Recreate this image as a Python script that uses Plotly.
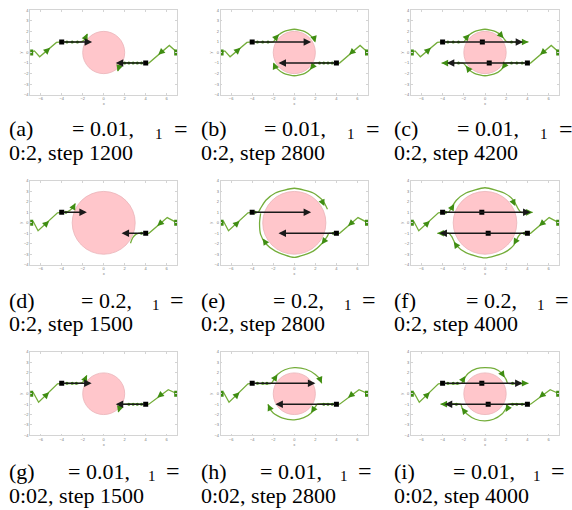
import plotly.graph_objects as go

# ---------------- data ----------------
PANEL_LABELS = ['(a)', '(b)', '(c)', '(d)', '(e)', '(f)', '(g)', '(h)', '(i)']
EPSILON = ['0.01', '0.01', '0.01', '0.2', '0.2', '0.2', '0.01', '0.01', '0.01']
LAMBDA1 = ['0:2', '0:2', '0:2', '0:2', '0:2', '0:2', '0:02', '0:02', '0:02']
STEPS = [1200, 2800, 4200, 1500, 2800, 4000, 1500, 2800, 4000]
RADIUS = [2, 2, 2, 3, 3, 3, 2, 2, 2]
X_TICKS = [-6, -4, -2, 0, 2, 4, 6]
Y_TICKS = [-4, -3, -2, -1, 0, 1, 2, 3, 4]

STARTS = [(-7, 0), (7, 0)]
AGENT_POS = [(-4, 1), (4, -1)]

# approach paths per row (left agent, right agent)
APPROACH_LEFT = [
    [(-7, 0), (-6.6, 0.15), (-6.1, -0.4), (-4.5, 0.95), (-4, 1)],
    [(-7, 0), (-6.7, 0.1), (-6.25, -0.76), (-4.4, 0.95), (-4, 1)],
    [(-7, 0), (-6.7, 0.1), (-6.2, -0.82), (-4.4, 0.95), (-4, 1)],
]
APPROACH_RIGHT = [
    [(7, 0), (6.25, 0.67), (4.3, -1), (4, -1)],
    [(7, 0), (6.05, 0.5), (4.3, -1), (4, -1)],
    [(7, 0), (6.15, 0.38), (4.3, -1), (4, -1)],
]
APPROACH_HEADS = [
    [(-5.5, 0.08, -5.1, 0.44), (5.6, 0.14, 5.2, -0.22)],
    [(-5.6, -0.2, -5.2, 0.18), (5.5, 0.05, 5.1, -0.3)],
    [(-5.6, -0.25, -5.2, 0.15), (5.5, -0.05, 5.1, -0.38)],
]

# trails after the agent positions
LEFT_TRAIL = [
    [(-4, 1), (-2.2, 1), (-1.95, 1.1), (-1.75, 1.35), (-1.55, 1.75)],
    [(-4, 1), (-2.0, 1.0), (-1.85, 1.2), (-1.5, 1.65), (-1.0, 1.98), (0, 2.2), (1.0, 1.98), (1.6, 1.55), (1.95, 1.05)],
    [(-4, 1), (-2.0, 1.0), (-1.85, 1.2), (-1.5, 1.65), (-1.0, 1.98), (0, 2.2), (1.0, 1.98), (1.6, 1.55), (1.95, 1.1), (2.1, 1.0), (4.1, 1.0)],
    [(-4, 1), (-3.5, 1.05), (-3.15, 1.25), (-2.9, 1.5), (-2.7, 1.85)],
    [(-4, 1), (-3.4, 1.05), (-3.2, 1.4), (-2.7, 2.15), (-1.8, 2.85), (0, 3.3), (1.8, 2.85), (2.7, 2.15), (3.15, 1.3)],
    [(-4, 1), (-3.4, 1.05), (-3.2, 1.4), (-2.7, 2.15), (-1.8, 2.85), (0, 3.35), (1.8, 2.85), (2.7, 2.15), (3.15, 1.3), (3.4, 1.0), (4.5, 1.0)],
    [(-4, 1), (-2.3, 1), (-2.0, 1.1), (-1.8, 1.35), (-1.6, 1.75)],
    [(-4, 1), (-2.2, 1), (-2.0, 1.25), (-1.6, 1.85), (-0.9, 2.3), (0, 2.5), (1.1, 2.35), (2.0, 1.85), (2.5, 1.3), (2.6, 1.0)],
    [(-4, 1), (-2.2, 1.0), (-2.05, 1.3), (-1.6, 1.95), (-0.8, 2.4), (0, 2.5), (0.9, 2.4), (1.6, 1.95), (2.0, 1.35), (2.15, 1.0), (4.1, 1.0)],
]
RIGHT_TRAIL = [
    [(4, -1), (1.8, -1), (1.6, -1.15), (1.45, -1.4), (1.35, -1.75)],
    [(4, -1), (1.9, -1), (1.8, -1.2), (1.5, -1.6), (1.0, -1.97), (0, -2.2), (-1.0, -1.97), (-1.6, -1.55), (-1.95, -1.05)],
    [(4, -1), (2.0, -1), (1.85, -1.2), (1.5, -1.65), (1.0, -1.98), (0, -2.2), (-1.0, -1.98), (-1.6, -1.55), (-1.95, -1.1), (-2.1, -1.0), (-4.1, -1.0)],
    [(4, -1), (3.3, -1), (3.0, -1.15), (2.75, -1.45), (2.55, -1.95)],
    [(4, -1), (3.3, -1), (3.1, -1.35), (2.6, -2.0), (1.8, -2.7), (0, -3.3), (-1.8, -2.7), (-2.7, -2.0), (-3.2, -1.1), (-3.3, 0), (-3.2, 0.9)],
    [(4, -1), (3.4, -1), (3.15, -1.3), (2.7, -2.15), (1.8, -2.85), (0, -3.35), (-1.8, -2.85), (-2.7, -2.15), (-3.15, -1.3), (-3.4, -1.0), (-4.5, -1.0)],
    [(4, -1), (1.9, -1), (1.65, -1.15), (1.5, -1.4), (1.4, -1.75)],
    [(4, -1), (2.2, -1), (2.0, -1.25), (1.6, -1.85), (0.9, -2.3), (0, -2.5), (-1.1, -2.35), (-2.0, -1.85), (-2.4, -1.3), (-2.5, -1.0)],
    [(4, -1), (2.2, -1), (2.05, -1.3), (1.6, -1.95), (0.8, -2.45), (0, -2.6), (-0.9, -2.45), (-1.7, -1.95), (-2.15, -1.4), (-2.3, -1.0), (-4.2, -1.0)],
]
# green arrowheads on trails: (tail_x, tail_y, head_x, head_y)
TRAIL_HEADS = [
    [(-1.75, 1.35, -1.55, 1.8), (1.45, -1.4, 1.32, -1.8)],
    [(-1.75, 1.4, -1.45, 1.72), (1.9, 1.3, 2.0, 0.95), (1.75, -1.3, 1.5, -1.62), (-1.85, -1.3, -2.0, -0.95)],
    [(-1.75, 1.4, -1.45, 1.72), (1.45, 1.7, 1.75, 1.35), (3.5, 1, 4.1, 1), (1.85, -1.2, 1.6, -1.55), (-1.5, -1.65, -1.8, -1.25), (-3.5, -1, -4.1, -1)],
    [(-2.95, 1.4, -2.7, 1.88)],
    [(2.55, 2.25, 2.85, 1.6), (3.0, -1.5, 2.6, -2.05), (-2.6, -2.1, -3.0, -1.5)],
    [(-3.2, 1.3, -2.9, 1.8), (2.55, 2.25, 2.85, 1.6), (4.0, 1, 4.5, 1), (3.0, -1.55, 2.7, -2.1), (-2.6, -2.3, -2.95, -1.8), (-4.0, -1, -4.5, -1)],
    [(-1.8, 1.35, -1.6, 1.8), (1.5, -1.4, 1.37, -1.8)],
    [(-1.9, 1.4, -1.6, 1.85), (2.4, 1.5, 2.6, 1.0), (1.95, -1.3, 1.6, -1.85), (-2.3, -1.45, -2.5, -1.0)],
    [(-2.1, 1.3, -1.85, 1.7), (1.6, 1.95, 1.85, 1.55), (3.6, 1, 4.1, 1), (2.2, -1.3, 1.95, -1.75), (-1.9, -1.75, -2.2, -1.35), (-3.7, -1, -4.2, -1)],
]
# small green marks along the straight parts of the trails
TRAIL_MARKS = [
    [(-3.5, 1), (-3.0, 1), (-2.5, 1), (3.6, -1), (3.2, -1), (2.8, -1), (2.4, -1), (2.0, -1)],
    [(-3.5, 1), (-3.0, 1), (-2.5, 1), (3.6, -1), (3.2, -1), (2.8, -1), (2.4, -1)],
    [(-3.5, 1), (-3.0, 1), (-2.5, 1), (2.5, 1), (3.0, 1), (3.5, -1), (3.0, -1), (2.5, -1), (-2.5, -1), (-3.0, -1)],
    [(-3.6, 1), (3.6, -1)],
    [(-3.7, 1), (3.7, -1)],
    [(-3.7, 1), (3.8, 1), (3.7, -1), (-3.8, -1)],
    [(-3.5, 1), (-3.0, 1), (-2.6, 1), (3.6, -1), (3.2, -1), (2.8, -1), (2.4, -1)],
    [(-3.5, 1), (-3.0, 1), (-2.6, 1), (3.6, -1), (3.2, -1), (2.8, -1)],
    [(-3.5, 1), (-3.0, 1), (-2.6, 1), (2.6, 1), (3.1, 1), (3.5, -1), (3.0, -1), (2.6, -1), (-2.7, -1), (-3.2, -1)],
]
BLACK_TIP_LEFT = [-1.1, 1.6, 3.6, -1.6, 1.6, 4.3, -1.15, 2.0, 3.55]
BLACK_TIP_RIGHT = [1.15, -1.5, -3.6, 1.7, -1.5, -4.3, 1.15, -1.8, -3.8]
EXTRA_DOTS = [[], [], [(-0.25, 1), (0.4, -1)], [], [], [(-0.3, 1), (0.3, -1)], [], [], [(-0.3, 1), (0.3, -1)]]

# ---------------- geometry / style ----------------
W, H = 572, 510
COL_X = [(30.2, 177.2), (220.6, 368.0), (410.8, 559.2)]
ROW_Y = [(7.3, 92.7), (179.7, 264.3), (352.5, 436.7)]
CAP_COL_X = [7, 199, 392]
CAP_ROW_Y = [(127, 151), (300, 324), (473, 497)]
CAP_OFFS = [(63, 146, 165), (71.5, 142.6, 161), (58.7, 139, 157)]

LINE_GREEN = '#74ad3a'
DARK_GREEN = '#3f8d12'
SERIF = 'Liberation Serif, Times New Roman, serif'

fig = go.Figure()
layout = dict(width=W, height=H, margin=dict(l=0, r=0, t=0, b=0),
              paper_bgcolor='white', plot_bgcolor='white', showlegend=False)
shapes, annotations = [], []


def px_x(p):
    return p / W


def px_y(p):
    return 1 - p / H


for i in range(9):
    r, c = divmod(i, 3)
    sfx = '' if i == 0 else str(i + 1)
    xa, ya = 'x' + sfx, 'y' + sfx
    x0, x1 = COL_X[c]
    y0, y1 = ROW_Y[r]
    axis_common = dict(showline=True, linecolor='#d4d4d4', linewidth=0.7, mirror='ticks',
                       ticks='inside', ticklen=2, tickcolor='#d4d4d4', showgrid=False,
                       zeroline=False, tickfont=dict(size=4, color='#777', family='Arial'),
                       fixedrange=True)
    layout['xaxis' + sfx] = dict(axis_common, domain=[px_x(x0), px_x(x1)], range=[-7, 7],
                                 tickvals=X_TICKS, anchor=ya,
                                 title=dict(text='x', font=dict(size=4, color='#777'), standoff=1))
    layout['yaxis' + sfx] = dict(axis_common, domain=[px_y(y1), px_y(y0)], range=[-4, 4],
                                 tickvals=Y_TICKS, anchor=xa,
                                 title=dict(text='y', font=dict(size=4, color='#777'), standoff=1))

    R = RADIUS[i]
    shapes.append(dict(type='circle', xref=xa, yref=ya, x0=-R, y0=-R, x1=R, y1=R,
                       fillcolor='#ffc6cb', line=dict(color='#eab3b8', width=0.8), layer='below'))

    # approach paths
    for path in (APPROACH_LEFT[r], APPROACH_RIGHT[r]):
        fig.add_trace(go.Scatter(x=[p[0] for p in path], y=[p[1] for p in path], mode='lines',
                                 line=dict(color=LINE_GREEN, width=1.3), xaxis=xa, yaxis=ya,
                                 hoverinfo='skip'))
    # trails
    for path in (LEFT_TRAIL[i], RIGHT_TRAIL[i]):
        fig.add_trace(go.Scatter(x=[p[0] for p in path], y=[p[1] for p in path], mode='lines',
                                 line=dict(color=LINE_GREEN, width=1.3, shape='spline', smoothing=0.6),
                                 xaxis=xa, yaxis=ya, hoverinfo='skip'))
    marks = TRAIL_MARKS[i]
    fig.add_trace(go.Scatter(x=[p[0] for p in marks], y=[p[1] for p in marks], mode='markers',
                             marker=dict(color=DARK_GREEN, size=3), xaxis=xa, yaxis=ya,
                             hoverinfo='skip'))
    # start markers
    fig.add_trace(go.Scatter(x=[p[0] for p in STARTS], y=[p[1] for p in STARTS], mode='markers',
                             marker=dict(color=DARK_GREEN, size=6, symbol='square'),
                             xaxis=xa, yaxis=ya, hoverinfo='skip'))

    # green arrowheads
    for (tx, ty, hx, hy) in APPROACH_HEADS[r] + TRAIL_HEADS[i]:
        annotations.append(dict(x=hx, y=hy, ax=tx, ay=ty, xref=xa, yref=ya, axref=xa, ayref=ya,
                                text='', showarrow=True, arrowhead=2, arrowsize=1.1,
                                arrowwidth=1.2, arrowcolor=DARK_GREEN))
    # black arrows
    (lx, ly), (rx, ry) = AGENT_POS
    for (sx, sy, tx) in ((lx, ly, BLACK_TIP_LEFT[i]), (rx, ry, BLACK_TIP_RIGHT[i])):
        annotations.append(dict(x=tx, y=sy, ax=sx, ay=sy, xref=xa, yref=ya, axref=xa, ayref=ya,
                                text='', showarrow=True, arrowhead=2, arrowsize=1.0,
                                arrowwidth=1.5, arrowcolor='#1a1a1a'))
    dots = AGENT_POS + EXTRA_DOTS[i]
    fig.add_trace(go.Scatter(x=[p[0] for p in dots], y=[p[1] for p in dots], mode='markers',
                             marker=dict(color='black', size=5, symbol='square'),
                             xaxis=xa, yaxis=ya, hoverinfo='skip'))

    # caption
    cx = CAP_COL_X[c]
    ly1, ly2 = CAP_ROW_Y[r]
    o_eq, o_sub, o_eq2 = CAP_OFFS[r]
    pieces = [
        (cx, ly1, PANEL_LABELS[i], 22),
        (cx + o_eq, ly1, '= ' + EPSILON[i] + ',', 22),
        (cx + o_sub, ly1 + 5, '1', 15),
        (cx + o_eq2, ly1, '=', 24),
        (cx, ly2, LAMBDA1[i] + ', step ' + str(STEPS[i]), 22),
    ]
    for (px, py, txt, sz) in pieces:
        annotations.append(dict(x=px_x(px), y=px_y(py), xref='paper', yref='paper', text=txt,
                                showarrow=False, xanchor='left', yanchor='middle',
                                font=dict(family=SERIF, size=sz, color='black')))

layout['shapes'] = shapes
layout['annotations'] = annotations
fig.update_layout(**layout)
fig.write_html('out.html', config={'displayModeBar': False},
               post_script="document.body.style.margin='0';document.body.style.overflow='hidden';")
